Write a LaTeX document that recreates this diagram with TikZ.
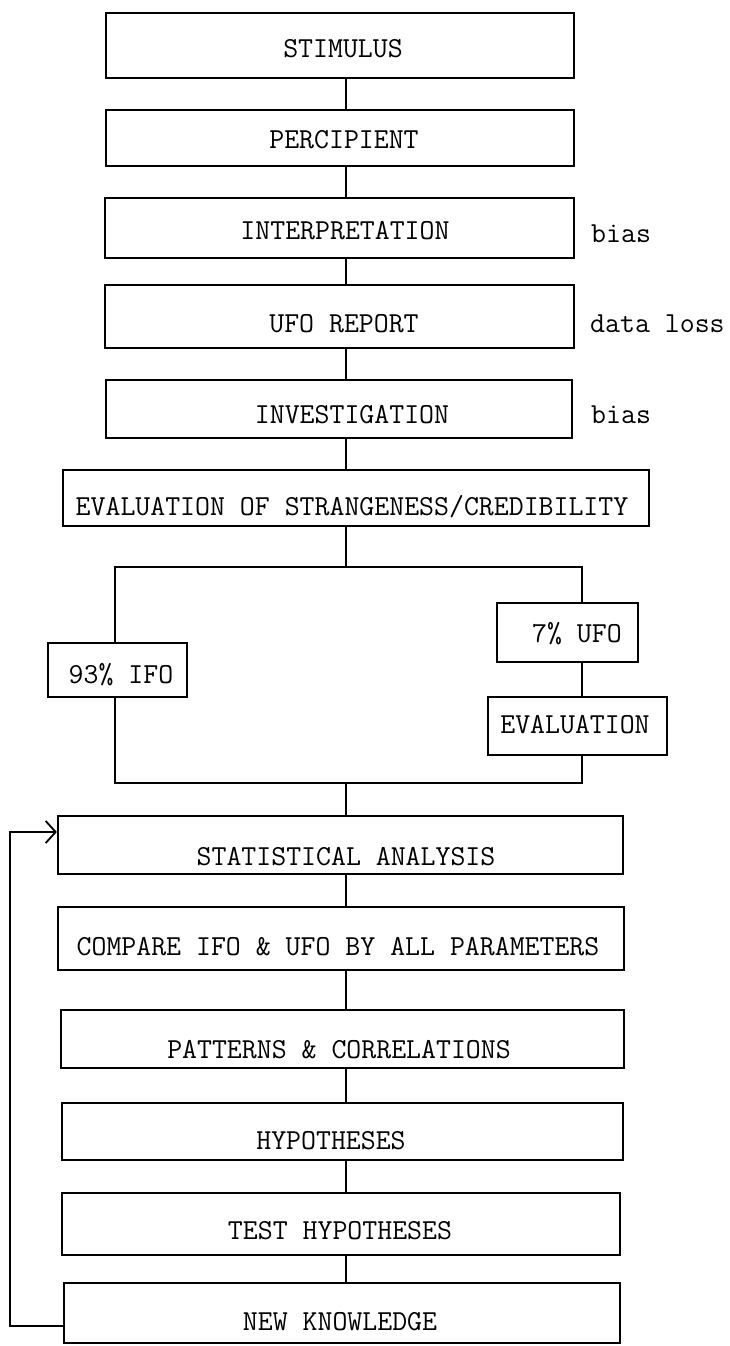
\documentclass[tikz,border=0pt]{standalone}
\usetikzlibrary{arrows.meta}
\begin{document}
\begin{tikzpicture}[x=1pt,y=-1pt,
  box/.style={draw, line width=2.2pt, rectangle, inner sep=0pt},
  txt/.style={font=\fontsize{29}{34}\selectfont\ttfamily, inner sep=0pt, anchor=base},
  side/.style={font=\fontsize{29}{34}\selectfont\ttfamily, inner sep=0pt, anchor=base west},
  conn/.style={line width=1.8pt},
  fb/.style={line width=1.8pt, -{Straight Barb[length=10pt,width=22pt,line width=1.8pt]}}]
\useasboundingbox (0,0) rectangle (730,1346);
% boxes
\node[box, minimum width=468pt, minimum height=65pt] (stim) at (340,45.5) {};
\node[box, minimum width=468pt, minimum height=56pt] (perc) at (340,138) {};
\node[box, minimum width=469pt, minimum height=60pt] (interp) at (339.5,228) {};
\node[box, minimum width=469pt, minimum height=63pt] (ufor) at (339.5,316.5) {};
\node[box, minimum width=466pt, minimum height=58pt] (inv) at (339,409) {};
\node[box, minimum width=586pt, minimum height=56pt] (evs) at (356,498) {};
\node[box, minimum width=139pt, minimum height=54pt] (ifo) at (117.5,670) {};
\node[box, minimum width=141pt, minimum height=59pt] (ufo) at (567.5,632.5) {};
\node[box, minimum width=179pt, minimum height=58pt] (evl) at (577.5,726) {};
\node[box, minimum width=565pt, minimum height=58pt] (stat) at (340.5,845) {};
\node[box, minimum width=566pt, minimum height=63pt] (comp) at (341,938.5) {};
\node[box, minimum width=563pt, minimum height=58pt] (patt) at (342.5,1039) {};
\node[box, minimum width=561pt, minimum height=57pt] (hyp) at (342.5,1131.5) {};
\node[box, minimum width=558pt, minimum height=62pt] (test) at (341,1224) {};
\node[box, minimum width=556pt, minimum height=60pt] (newk) at (342,1313) {};
% texts
\node[txt] (stimT) at (343,57) {STIMULUS};
\node[txt] (percT) at (344,148) {PERCIPIENT};
\node[txt] (interpT) at (345,239) {INTERPRETATION};
\node[txt] (uforT) at (344,332) {UFO REPORT};
\node[txt] (invT) at (352,423) {INVESTIGATION};
\node[txt] (evsT) at (352,515) {EVALUATION OF STRANGENESS/CREDIBILITY};
\node[txt] (ifoT) at (121,683) {93\% IFO};
\node[txt] (ufoT) at (577,642) {7\% UFO};
\node[txt] (evlT) at (575,733) {EVALUATION};
\node[txt] (statT) at (346,865) {STATISTICAL ANALYSIS};
\node[txt] (compT) at (338,955) {COMPARE IFO \& UFO BY ALL PARAMETERS};
\node[txt] (pattT) at (339,1058) {PATTERNS \& CORRELATIONS};
\node[txt] (hypT) at (331,1149) {HYPOTHESES};
\node[txt] (testT) at (340,1239) {TEST HYPOTHESES};
\node[txt] (newkT) at (340,1330) {NEW KNOWLEDGE};
% side notes
\node[side] (bias1) at (591,242) {bias};
\node[side] (loss) at (590,332) {data loss};
\node[side] (bias2) at (591,423) {bias};
% guide coordinates
\coordinate (cx) at (346,0);
\coordinate (lx) at (115,0);
\coordinate (rx) at (582,0);
\coordinate (split) at (346,567);
\coordinate (merge) at (346,783);
\coordinate (fbl) at (10,1000);
% main chain
\draw[conn] (stim.south -| cx) -- (perc.north -| cx);
\draw[conn] (perc.south -| cx) -- (interp.north -| cx);
\draw[conn] (interp.south -| cx) -- (ufor.north -| cx);
\draw[conn] (ufor.south -| cx) -- (inv.north -| cx);
\draw[conn] (inv.south -| cx) -- (evs.north -| cx);
\draw[conn] (evs.south -| cx) -- (split);
\draw[conn] (ifo.north -| lx) |- (split) -| (ufo.north -| rx);
\draw[conn] (ufo.south -| rx) -- (evl.north -| rx);
\draw[conn] (ifo.south -| lx) |- (merge) -| (evl.south -| rx);
\draw[conn] (merge) -- (stat.north -| cx);
\draw[conn] (stat.south -| cx) -- (comp.north -| cx);
\draw[conn] (comp.south -| cx) -- (patt.north -| cx);
\draw[conn] (patt.south -| cx) -- (hyp.north -| cx);
\draw[conn] (hyp.south -| cx) -- (test.north -| cx);
\draw[conn] (test.south -| cx) -- (newk.north -| cx);
% feedback
\draw[fb] ([yshift=-13pt]newk.west) -| (fbl) |- ([yshift=13pt]stat.west);
\end{tikzpicture}
\end{document}
